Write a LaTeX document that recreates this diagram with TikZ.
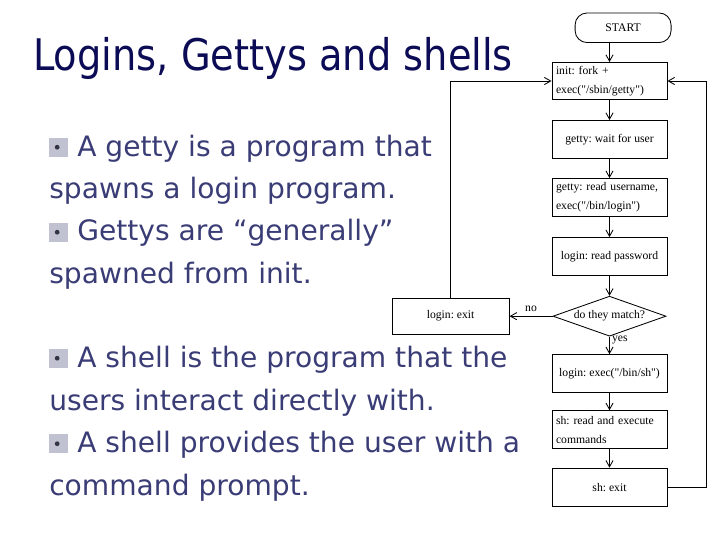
\documentclass[tikz,border=0pt]{standalone}
\usepackage{fontspec}
\usepackage{xcolor}
\setmainfont{Liberation Serif}[Ligatures=TeXOff]
\newfontfamily\slidefont{DejaVu Sans}
\newfontfamily\titlefont[FakeStretch=0.88]{DejaVu Sans}
\usetikzlibrary{arrows.meta,positioning,shapes.geometric}

\definecolor{titleblue}{RGB}{12,12,86}
\definecolor{textblue}{RGB}{58,60,118}
\definecolor{bulletgray}{RGB}{192,194,210}
\definecolor{bulletdot}{RGB}{50,52,70}

\begin{document}
\begin{tikzpicture}[
  x=0.25mm, y=-0.25mm,
  font=\fontsize{8.3}{13.5}\selectfont\frenchspacing,
  box/.style={draw, line width=0.6pt, minimum width=28.75mm, minimum height=9.55mm, inner xsep=1mm, inner ysep=0.8mm},
  twoline/.style={box, text width=26.75mm, align=left},
  startbox/.style={box, rounded corners=3mm, minimum width=24mm, minimum height=7.4mm},
  decision/.style={draw, diamond, aspect=2.75, line width=0.6pt, minimum width=28.25mm, minimum height=10mm, inner sep=0pt},
  arrow/.style={-{Straight Barb[length=1.6mm,width=1.8mm]}, line width=0.6pt},
  lbl/.style={inner sep=1.5pt},
  slidetext/.style={text=textblue, font=\slidefont\fontsize{20}{30}\selectfont, align=left, inner sep=0pt, anchor=base west},
  bulletsq/.style={fill=bulletgray, minimum size=4.75mm, inner sep=0pt, anchor=south west,
    path picture={\fill[bulletdot] ([xshift=-0.4mm]path picture bounding box.center) circle (0.6mm);}}
]
  \useasboundingbox (0,0) rectangle (720,540);

  % Title
  \node[anchor=base west, inner sep=0pt, text=titleblue, font=\titlefont\fontsize{31}{31}\selectfont] (title) at (33,70) {Logins, Gettys and shells};

  % Bullet points (node base = last line)
  \node[bulletsq] (b1) at (49,157) {};
  \node[slidetext] (getty) at (49,198.5) {\hspace*{7mm}A getty is a program that\\spawns a login program.};
  \node[bulletsq] (b2) at (49,242) {};
  \node[slidetext] (spawn) at (49,283) {\hspace*{7mm}Gettys are “generally”\\spawned from init.};
  \node[bulletsq] (b3) at (49,368) {};
  \node[slidetext] (shelldef) at (49,410) {\hspace*{7mm}A shell is the program that the\\users interact directly with.};
  \node[bulletsq] (b4) at (49,453.5) {};
  \node[slidetext] (prompt) at (49,495) {\hspace*{7mm}A shell provides the user with a\\command prompt.};

  % Flowchart
  \node[twoline, minimum height=9.3mm] (init) at (609.5,81) {init: fork +\\exec("/sbin/getty")};
  \node[startbox, above=4.75mm of init, xshift=3.4mm] (start) {START};
  \node[box, below=5mm of init] (wait) {getty: wait for user};
  \node[twoline, below=4.75mm of wait] (read) {getty: read username,\\exec("/bin/login")};
  \node[box, below=5mm of read] (pass) {login: read password};
  \node[decision, below=4.9mm of pass] (match) {do they match?};
  \node[box, below=4.4mm of match] (shell) {login: exec("/bin/sh")};
  \node[twoline, below=4.25mm of shell] (cmds) {sh: read and execute\\commands};
  \node[box, below=4.6mm of cmds] (shexit) {sh: exit};
  \node[box, left=10.75mm of match, minimum width=29.25mm, minimum height=9.1mm] (exit) {login: exit};
  \coordinate (rturn) at (706,81);

  % Arrows
  \draw[arrow] (start.south -| init.north) -- (init.north);
  \draw[arrow] (init) -- (wait);
  \draw[arrow] (wait) -- (read);
  \draw[arrow] (read) -- (pass);
  \draw[arrow] (pass) -- (match);
  \draw[arrow] (match) -- node[right, lbl, pos=0.2] {yes} (shell);
  \draw[arrow] (shell) -- (cmds);
  \draw[arrow] (cmds) -- (shexit);
  \draw[arrow] (match) -- node[above, inner sep=3pt] {no} (exit);
  \draw[arrow] (shexit.east) -| (rturn) -- (init.east);
  \draw[arrow] (exit.north) |- (init.west);
\end{tikzpicture}
\end{document}
